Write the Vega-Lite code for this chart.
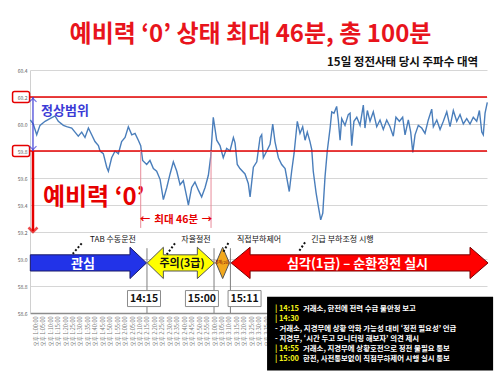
{
  "$schema": "https://vega.github.io/schema/vega-lite/v6.json",
  "width": 457,
  "height": 243,
  "autosize": "none",
  "padding": {"left": 30, "top": 70, "right": 13, "bottom": 62},
  "background": "white",
  "config": {"font": "Noto Sans CJK KR", "view": {"stroke": null}},
  "title": {
    "text": "예비력 ‘0’ 상태 최대 46분, 총 100분",
    "fontSize": 24,
    "fontWeight": "bold",
    "color": "#e8141c",
    "anchor": "middle",
    "offset": 10,
    "dx": -8
  },
  "datasets": {
    "freq": [
      {"t": "2011-09-15T12:56:42", "hz": 60.03},
      {"t": "2011-09-15T12:58:42", "hz": 60.00},
      {"t": "2011-09-15T13:01:00", "hz": 59.92},
      {"t": "2011-09-15T13:03:12", "hz": 59.99},
      {"t": "2011-09-15T13:06:36", "hz": 60.02},
      {"t": "2011-09-15T13:09:54", "hz": 60.04},
      {"t": "2011-09-15T13:13:18", "hz": 60.06},
      {"t": "2011-09-15T13:15:30", "hz": 60.02},
      {"t": "2011-09-15T13:18:54", "hz": 59.99},
      {"t": "2011-09-15T13:21:06", "hz": 59.98},
      {"t": "2011-09-15T13:24:30", "hz": 59.97},
      {"t": "2011-09-15T13:26:42", "hz": 59.94},
      {"t": "2011-09-15T13:28:54", "hz": 59.91},
      {"t": "2011-09-15T13:31:12", "hz": 59.94},
      {"t": "2011-09-15T13:33:24", "hz": 59.90},
      {"t": "2011-09-15T13:35:42", "hz": 59.97},
      {"t": "2011-09-15T13:37:54", "hz": 59.92},
      {"t": "2011-09-15T13:40:06", "hz": 59.87},
      {"t": "2011-09-15T13:42:24", "hz": 59.84},
      {"t": "2011-09-15T13:43:30", "hz": 59.80},
      {"t": "2011-09-15T13:45:42", "hz": 59.78},
      {"t": "2011-09-15T13:48:00", "hz": 59.68},
      {"t": "2011-09-15T13:49:06", "hz": 59.65},
      {"t": "2011-09-15T13:51:18", "hz": 59.75},
      {"t": "2011-09-15T13:53:36", "hz": 59.80},
      {"t": "2011-09-15T13:55:48", "hz": 59.78},
      {"t": "2011-09-15T13:58:00", "hz": 59.87},
      {"t": "2011-09-15T14:00:18", "hz": 59.90},
      {"t": "2011-09-15T14:02:30", "hz": 59.98},
      {"t": "2011-09-15T14:04:48", "hz": 59.92},
      {"t": "2011-09-15T14:07:00", "hz": 59.93},
      {"t": "2011-09-15T14:09:12", "hz": 59.88},
      {"t": "2011-09-15T14:10:48", "hz": 59.84},
      {"t": "2011-09-15T14:12:06", "hz": 59.73},
      {"t": "2011-09-15T14:14:48", "hz": 59.70},
      {"t": "2011-09-15T14:17:00", "hz": 59.73},
      {"t": "2011-09-15T14:19:18", "hz": 59.67},
      {"t": "2011-09-15T14:21:30", "hz": 59.65},
      {"t": "2011-09-15T14:23:48", "hz": 59.59},
      {"t": "2011-09-15T14:26:00", "hz": 59.44},
      {"t": "2011-09-15T14:28:18", "hz": 59.53},
      {"t": "2011-09-15T14:30:30", "hz": 59.63},
      {"t": "2011-09-15T14:32:42", "hz": 59.72},
      {"t": "2011-09-15T14:35:00", "hz": 59.65},
      {"t": "2011-09-15T14:37:12", "hz": 59.55},
      {"t": "2011-09-15T14:39:24", "hz": 59.58},
      {"t": "2011-09-15T14:41:42", "hz": 59.46},
      {"t": "2011-09-15T14:42:48", "hz": 59.40},
      {"t": "2011-09-15T14:45:00", "hz": 59.53},
      {"t": "2011-09-15T14:47:12", "hz": 59.57},
      {"t": "2011-09-15T14:49:30", "hz": 59.51},
      {"t": "2011-09-15T14:51:42", "hz": 59.46},
      {"t": "2011-09-15T14:54:00", "hz": 59.53},
      {"t": "2011-09-15T14:56:12", "hz": 59.62},
      {"t": "2011-09-15T14:57:48", "hz": 59.76},
      {"t": "2011-09-15T14:59:30", "hz": 60.05},
      {"t": "2011-09-15T15:01:48", "hz": 59.88},
      {"t": "2011-09-15T15:04:00", "hz": 59.84},
      {"t": "2011-09-15T15:06:12", "hz": 59.75},
      {"t": "2011-09-15T15:08:30", "hz": 59.82},
      {"t": "2011-09-15T15:10:42", "hz": 59.80},
      {"t": "2011-09-15T15:13:00", "hz": 59.90},
      {"t": "2011-09-15T15:14:06", "hz": 59.86},
      {"t": "2011-09-15T15:15:36", "hz": 59.70},
      {"t": "2011-09-15T15:17:24", "hz": 59.67},
      {"t": "2011-09-15T15:20:48", "hz": 59.63},
      {"t": "2011-09-15T15:23:00", "hz": 59.56},
      {"t": "2011-09-15T15:24:12", "hz": 59.46},
      {"t": "2011-09-15T15:26:24", "hz": 59.68},
      {"t": "2011-09-15T15:28:42", "hz": 59.72},
      {"t": "2011-09-15T15:30:54", "hz": 59.90},
      {"t": "2011-09-15T15:32:00", "hz": 59.92},
      {"t": "2011-09-15T15:33:06", "hz": 59.75},
      {"t": "2011-09-15T15:35:24", "hz": 59.80},
      {"t": "2011-09-15T15:37:36", "hz": 59.85},
      {"t": "2011-09-15T15:39:24", "hz": 60.00},
      {"t": "2011-09-15T15:40:54", "hz": 59.87},
      {"t": "2011-09-15T15:43:12", "hz": 59.75},
      {"t": "2011-09-15T15:45:24", "hz": 59.70},
      {"t": "2011-09-15T15:47:42", "hz": 59.67},
      {"t": "2011-09-15T15:50:30", "hz": 59.50},
      {"t": "2011-09-15T15:52:06", "hz": 59.65},
      {"t": "2011-09-15T15:53:42", "hz": 59.78},
      {"t": "2011-09-15T15:55:54", "hz": 60.02},
      {"t": "2011-09-15T15:57:42", "hz": 59.93},
      {"t": "2011-09-15T15:59:30", "hz": 59.98},
      {"t": "2011-09-15T16:01:06", "hz": 59.88},
      {"t": "2011-09-15T16:02:36", "hz": 59.94},
      {"t": "2011-09-15T16:04:24", "hz": 59.87},
      {"t": "2011-09-15T16:05:36", "hz": 59.81},
      {"t": "2011-09-15T16:06:36", "hz": 59.65},
      {"t": "2011-09-15T16:08:30", "hz": 59.49},
      {"t": "2011-09-15T16:10:00", "hz": 59.39},
      {"t": "2011-09-15T16:11:36", "hz": 59.29},
      {"t": "2011-09-15T16:13:00", "hz": 59.34},
      {"t": "2011-09-15T16:14:30", "hz": 59.61},
      {"t": "2011-09-15T16:16:00", "hz": 59.80},
      {"t": "2011-09-15T16:17:54", "hz": 59.97},
      {"t": "2011-09-15T16:19:00", "hz": 60.09},
      {"t": "2011-09-15T16:20:30", "hz": 60.08},
      {"t": "2011-09-15T16:22:18", "hz": 60.13},
      {"t": "2011-09-15T16:23:24", "hz": 60.03},
      {"t": "2011-09-15T16:24:36", "hz": 59.88},
      {"t": "2011-09-15T16:25:42", "hz": 60.04},
      {"t": "2011-09-15T16:27:54", "hz": 59.99},
      {"t": "2011-09-15T16:30:06", "hz": 60.07},
      {"t": "2011-09-15T16:31:18", "hz": 60.08},
      {"t": "2011-09-15T16:32:24", "hz": 59.84},
      {"t": "2011-09-15T16:33:54", "hz": 60.02},
      {"t": "2011-09-15T16:35:48", "hz": 60.05},
      {"t": "2011-09-15T16:38:00", "hz": 59.99},
      {"t": "2011-09-15T16:40:12", "hz": 60.14},
      {"t": "2011-09-15T16:41:18", "hz": 59.97},
      {"t": "2011-09-15T16:42:54", "hz": 60.10},
      {"t": "2011-09-15T16:44:42", "hz": 60.02},
      {"t": "2011-09-15T16:46:54", "hz": 60.09},
      {"t": "2011-09-15T16:49:12", "hz": 59.98},
      {"t": "2011-09-15T16:51:24", "hz": 60.03},
      {"t": "2011-09-15T16:53:36", "hz": 59.96},
      {"t": "2011-09-15T16:55:54", "hz": 60.03},
      {"t": "2011-09-15T16:58:06", "hz": 59.98},
      {"t": "2011-09-15T17:00:18", "hz": 59.91},
      {"t": "2011-09-15T17:02:06", "hz": 60.05},
      {"t": "2011-09-15T17:04:24", "hz": 60.02},
      {"t": "2011-09-15T17:06:36", "hz": 60.05},
      {"t": "2011-09-15T17:08:12", "hz": 59.92},
      {"t": "2011-09-15T17:10:24", "hz": 60.03},
      {"t": "2011-09-15T17:12:00", "hz": 59.94},
      {"t": "2011-09-15T17:13:24", "hz": 59.79},
      {"t": "2011-09-15T17:14:54", "hz": 59.92},
      {"t": "2011-09-15T17:17:06", "hz": 59.99},
      {"t": "2011-09-15T17:19:24", "hz": 59.97},
      {"t": "2011-09-15T17:21:36", "hz": 59.93},
      {"t": "2011-09-15T17:23:48", "hz": 60.03},
      {"t": "2011-09-15T17:26:06", "hz": 60.11},
      {"t": "2011-09-15T17:27:12", "hz": 59.98},
      {"t": "2011-09-15T17:29:30", "hz": 60.03},
      {"t": "2011-09-15T17:31:42", "hz": 59.96},
      {"t": "2011-09-15T17:33:54", "hz": 60.02},
      {"t": "2011-09-15T17:36:12", "hz": 60.09},
      {"t": "2011-09-15T17:38:24", "hz": 59.98},
      {"t": "2011-09-15T17:40:36", "hz": 60.10},
      {"t": "2011-09-15T17:42:54", "hz": 60.02},
      {"t": "2011-09-15T17:45:06", "hz": 60.07},
      {"t": "2011-09-15T17:47:18", "hz": 60.00},
      {"t": "2011-09-15T17:49:36", "hz": 60.04},
      {"t": "2011-09-15T17:51:48", "hz": 60.00},
      {"t": "2011-09-15T17:54:00", "hz": 60.05},
      {"t": "2011-09-15T17:56:18", "hz": 60.02},
      {"t": "2011-09-15T17:58:06", "hz": 60.10},
      {"t": "2011-09-15T17:59:42", "hz": 59.94},
      {"t": "2011-09-15T18:00:42", "hz": 59.92},
      {"t": "2011-09-15T18:01:54", "hz": 60.08},
      {"t": "2011-09-15T18:03:24", "hz": 60.16}
    ],
    "stages": [
      {"stage": "관심", "t": "2011-09-15T12:56:42", "lo": 58.911, "hi": 59.031},
      {"stage": "관심", "t": "2011-09-15T14:03:36", "lo": 58.911, "hi": 59.031},
      {"stage": "관심", "t": "2011-09-15T14:03:36", "lo": 58.855, "hi": 59.087},
      {"stage": "관심", "t": "2011-09-15T14:14:42", "lo": 58.971, "hi": 58.971},
      {"stage": "주의", "t": "2011-09-15T14:15:12", "lo": 58.971, "hi": 58.971},
      {"stage": "주의", "t": "2011-09-15T14:26:00", "lo": 58.855, "hi": 59.087},
      {"stage": "주의", "t": "2011-09-15T14:26:00", "lo": 58.911, "hi": 59.031},
      {"stage": "주의", "t": "2011-09-15T14:48:48", "lo": 58.911, "hi": 59.031},
      {"stage": "주의", "t": "2011-09-15T14:48:48", "lo": 58.855, "hi": 59.087},
      {"stage": "주의", "t": "2011-09-15T15:00:12", "lo": 58.971, "hi": 58.971},
      {"stage": "경계", "t": "2011-09-15T15:01:18", "lo": 58.971, "hi": 58.971},
      {"stage": "경계", "t": "2011-09-15T15:05:48", "lo": 58.855, "hi": 59.087},
      {"stage": "경계", "t": "2011-09-15T15:10:18", "lo": 58.971, "hi": 58.971},
      {"stage": "심각", "t": "2011-09-15T15:11:30", "lo": 58.971, "hi": 58.971},
      {"stage": "심각", "t": "2011-09-15T15:24:12", "lo": 58.855, "hi": 59.087},
      {"stage": "심각", "t": "2011-09-15T15:24:12", "lo": 58.911, "hi": 59.031},
      {"stage": "심각", "t": "2011-09-15T17:51:48", "lo": 58.911, "hi": 59.031},
      {"stage": "심각", "t": "2011-09-15T17:51:48", "lo": 58.855, "hi": 59.087},
      {"stage": "심각", "t": "2011-09-15T18:03:54", "lo": 58.971, "hi": 58.971}
    ],
    "notes": [
      {"t": "2011-09-15T15:40:54", "v": 58.63, "text": "| 14:15", "kind": "stamp"},
      {"t": "2011-09-15T15:59:42", "v": 58.63, "text": "거래소, 한전에 전력 수급 불안정 보고", "kind": "body"},
      {"t": "2011-09-15T15:40:54", "v": 58.556, "text": "| 14:30", "kind": "stamp"},
      {"t": "2011-09-15T15:40:54", "v": 58.481, "text": "- 거래소, 지경부에 상황 악화 가능성 대비 ‘정전 필요성’ 언급", "kind": "body"},
      {"t": "2011-09-15T15:40:54", "v": 58.407, "text": "- 지경부, ‘시간 두고 모니터링 해보자’ 의견 제시", "kind": "body"},
      {"t": "2011-09-15T15:40:54", "v": 58.333, "text": "| 14:55", "kind": "stamp"},
      {"t": "2011-09-15T15:59:42", "v": 58.333, "text": "거래소, 지경부에 상황호전으로 정전 불필요 통보", "kind": "body"},
      {"t": "2011-09-15T15:40:54", "v": 58.259, "text": "| 15:00", "kind": "stamp"},
      {"t": "2011-09-15T15:59:42", "v": 58.259, "text": "한전, 사전통보없이 직접부하제어 시행 실시 통보", "kind": "body"}
    ]
  },
  "layer": [
    {
      "data": {"name": "freq"},
      "mark": {"type": "line", "color": "#4a7ebb", "strokeWidth": 1.4},
      "encoding": {
        "x": {
          "field": "t", "type": "temporal",
          "scale": {"domain": [
            {"year": 2011, "month": 9, "date": 15, "hours": 12, "minutes": 56, "seconds": 30},
            {"year": 2011, "month": 9, "date": 15, "hours": 18, "minutes": 3, "seconds": 12}
          ]},
          "axis": {
            "title": null, "grid": false, "ticks": false,
            "tickCount": 95,
            "format": "오후 %-I:%M:%S",
            "labelAngle": -90, "labelFontSize": 5.5, "labelColor": "#777",
            "labelOverlap": false, "labelPadding": 3,
            "domainColor": "#8c8c8c", "domainWidth": 1.5
          }
        },
        "y": {
          "field": "hz", "type": "quantitative",
          "scale": {"domain": [58.6, 60.4], "zero": false, "nice": false},
          "axis": {
            "title": null, "values": [58.6, 58.8, 59, 59.2, 59.4, 59.6, 59.8, 60, 60.2, 60.4],
            "tickCount": 10,
            "ticks": false, "labelFontSize": 5, "labelColor": "#595959", "labelOverlap": false,
            "labelPadding": 3, "gridColor": "#d6d6d6", "domainColor": "#d0d0d0"
          }
        }
      }
    },
    {
      "data": {"values": [{"level": 60.2}, {"level": 59.8}]},
      "mark": {"type": "rule", "color": "#e60000", "strokeWidth": 1.5},
      "encoding": {"y": {"field": "level", "type": "quantitative"}}
    },
    {
      "data": {"values": [{"level": 60.2, "t": "2011-09-15T12:50:30"}, {"level": 59.8, "t": "2011-09-15T12:50:30"}]},
      "mark": {"type": "rect", "width": 17, "height": 11, "cornerRadius": 2, "fill": "transparent", "stroke": "#e60000", "strokeWidth": 1.5},
      "encoding": {
        "x": {"field": "t", "type": "temporal"},
        "y": {"field": "level", "type": "quantitative"}
      }
    },
    {
      "data": {"values": [{"t": "2011-09-15T12:58:30", "from": 60.2, "to": 59.8}]},
      "mark": {"type": "rule", "color": "#3b3bd6", "strokeWidth": 1.2},
      "encoding": {
        "x": {"field": "t", "type": "temporal"},
        "y": {"field": "from", "type": "quantitative"},
        "y2": {"field": "to"}
      }
    },
    {
      "data": {"values": [{"t": "2011-09-15T12:58:30", "tip": 60.19}]},
      "mark": {"type": "point", "shape": "M-1,1L0,0L1,1", "size": 49, "filled": false, "color": "#3b3bd6", "strokeWidth": 1.2},
      "encoding": {
        "x": {"field": "t", "type": "temporal"},
        "y": {"field": "tip", "type": "quantitative"}
      }
    },
    {
      "data": {"values": [{"t": "2011-09-15T12:58:30", "tip": 59.81}]},
      "mark": {"type": "point", "shape": "M-1,-1L0,0L1,-1", "size": 49, "filled": false, "color": "#3b3bd6", "strokeWidth": 1.2},
      "encoding": {
        "x": {"field": "t", "type": "temporal"},
        "y": {"field": "tip", "type": "quantitative"}
      }
    },
    {
      "data": {"values": [{"t": "2011-09-15T12:58:30", "from": 59.8, "to": 59.205}]},
      "mark": {"type": "rule", "color": "#e60000", "strokeWidth": 2.5},
      "encoding": {
        "x": {"field": "t", "type": "temporal"},
        "y": {"field": "from", "type": "quantitative"},
        "y2": {"field": "to"}
      }
    },
    {
      "data": {"values": [{"t": "2011-09-15T12:58:30", "tip": 59.2}]},
      "mark": {"type": "point", "shape": "M-1,-1L0,0L1,-1", "size": 81, "filled": false, "color": "#e60000", "strokeWidth": 2.5},
      "encoding": {
        "x": {"field": "t", "type": "temporal"},
        "y": {"field": "tip", "type": "quantitative"}
      }
    },
    {
      "data": {"values": [{"t": "2011-09-15T13:03:54", "v": 60.095, "label": "정상범위"}]},
      "mark": {"type": "text", "align": "left", "baseline": "middle", "fontSize": 13, "fontWeight": "bold", "color": "#3b3bd6"},
      "encoding": {
        "x": {"field": "t", "type": "temporal"},
        "y": {"field": "v", "type": "quantitative"},
        "text": {"field": "label"}
      }
    },
    {
      "data": {"values": [{"t": "2011-09-15T13:05:12", "v": 59.455, "label": "예비력 ‘0’"}]},
      "mark": {"type": "text", "align": "left", "baseline": "middle", "fontSize": 24, "fontWeight": "bold", "color": "#e60000"},
      "encoding": {
        "x": {"field": "t", "type": "temporal"},
        "y": {"field": "v", "type": "quantitative"},
        "text": {"field": "label"}
      }
    },
    {
      "data": {"values": [{"t": "2011-09-15T17:57:12", "v": 60.455, "label": "15일 정전사태 당시 주파수 대역"}]},
      "mark": {"type": "text", "align": "right", "baseline": "middle", "fontSize": 11.5, "fontWeight": "bold", "color": "#111"},
      "encoding": {
        "x": {"field": "t", "type": "temporal"},
        "y": {"field": "v", "type": "quantitative"},
        "text": {"field": "label"}
      }
    },
    {
      "data": {"values": [{"t": "2011-09-15T14:10:48", "from": 59.8, "to": 59.23}, {"t": "2011-09-15T14:58:00", "from": 59.8, "to": 59.23}]},
      "mark": {"type": "rule", "color": "#e88c9a", "strokeWidth": 1},
      "encoding": {
        "x": {"field": "t", "type": "temporal"},
        "y": {"field": "from", "type": "quantitative"},
        "y2": {"field": "to"}
      }
    },
    {
      "data": {"values": [
        {"t": "2011-09-15T14:34:36", "v": 59.29, "label": "최대 46분"},
        {"t": "2011-09-15T14:13:42", "v": 59.29, "label": "←"},
        {"t": "2011-09-15T14:55:18", "v": 59.29, "label": "→"}
      ]},
      "mark": {"type": "text", "align": "center", "baseline": "middle", "fontSize": 10.5, "fontWeight": "bold", "color": "#e60000"},
      "encoding": {
        "x": {"field": "t", "type": "temporal"},
        "y": {"field": "v", "type": "quantitative"},
        "text": {"field": "label"}
      }
    },
    {
      "data": {"values": [
        {"t": "2011-09-15T14:15:00", "from": 59.08, "to": 58.6},
        {"t": "2011-09-15T15:00:00", "from": 59.08, "to": 58.6},
        {"t": "2011-09-15T15:11:00", "from": 59.08, "to": 58.6}
      ]},
      "mark": {"type": "rule", "color": "#7f7f7f", "strokeWidth": 1},
      "encoding": {
        "x": {"field": "t", "type": "temporal"},
        "y": {"field": "from", "type": "quantitative"},
        "y2": {"field": "to"}
      }
    },
    {
      "data": {"name": "stages"},
      "mark": {"type": "area", "strokeWidth": 1, "opacity": 1, "fillOpacity": 1, "interpolate": "linear"},
      "encoding": {
        "x": {"field": "t", "type": "temporal"},
        "y": {"field": "lo", "type": "quantitative", "stack": null},
        "y2": {"field": "hi"},
        "color": {"field": "stage", "type": "nominal", "scale": {"domain": ["관심", "주의", "경계", "심각"], "range": ["#2233e8", "#ffff00", "#f2a81d", "#ff0000"]}, "legend": null},
        "stroke": {"field": "stage", "type": "nominal", "scale": {"domain": ["관심", "주의", "경계", "심각"], "range": ["#1a1a66", "#555555", "#555555", "#7a0000"]}, "legend": null}
      }
    },
    {
      "data": {"values": [
        {"t": "2011-09-15T13:32:06", "v": 58.965, "label": "관심"},
        {"t": "2011-09-15T16:36:18", "v": 58.965, "label": "심각(1급) – 순환정전 실시"}
      ]},
      "mark": {"type": "text", "align": "center", "baseline": "middle", "fontSize": 13, "fontWeight": "bold", "color": "white"},
      "encoding": {
        "x": {"field": "t", "type": "temporal"},
        "y": {"field": "v", "type": "quantitative"},
        "text": {"field": "label"}
      }
    },
    {
      "data": {"values": [{"t": "2011-09-15T14:38:30", "v": 58.965, "label": "주의(3급)"}]},
      "mark": {"type": "text", "align": "center", "baseline": "middle", "fontSize": 11, "fontWeight": "bold", "color": "#111"},
      "encoding": {
        "x": {"field": "t", "type": "temporal"},
        "y": {"field": "v", "type": "quantitative"},
        "text": {"field": "label"}
      }
    },
    {
      "data": {"values": [{"t": "2011-09-15T15:05:48", "v": 58.97, "label": "경계(2급)"}]},
      "mark": {"type": "text", "align": "center", "baseline": "middle", "fontSize": 4, "color": "#7a0000"},
      "encoding": {
        "x": {"field": "t", "type": "temporal"},
        "y": {"field": "v", "type": "quantitative"},
        "text": {"field": "label"}
      }
    },
    {
      "data": {"values": [
        {"t": "2011-09-15T13:31:12", "t2": "2011-09-15T13:25:12", "v": 59.116, "v2": 59.038},
        {"t": "2011-09-15T14:33:48", "t2": "2011-09-15T14:28:18", "v": 59.116, "v2": 59.034},
        {"t": "2011-09-15T15:09:36", "t2": "2011-09-15T15:06:12", "v": 59.118, "v2": 59.051},
        {"t": "2011-09-15T16:01:06", "t2": "2011-09-15T15:56:36", "v": 59.123, "v2": 59.051}
      ]},
      "mark": {"type": "rule", "color": "#111", "strokeWidth": 2, "strokeDash": [2, 2]},
      "encoding": {
        "x": {"field": "t", "type": "temporal"},
        "x2": {"field": "t2"},
        "y": {"field": "v", "type": "quantitative"},
        "y2": {"field": "v2"}
      }
    },
    {
      "data": {"values": [
        {"t": "2011-09-15T13:52:12", "v": 59.14, "label": "TAB 수동운전"},
        {"t": "2011-09-15T14:47:54", "v": 59.14, "label": "자율절전"},
        {"t": "2011-09-15T15:30:12", "v": 59.14, "label": "직접부하제어"},
        {"t": "2011-09-15T16:26:12", "v": 59.14, "label": "긴급 부하조정 시행"}
      ]},
      "mark": {"type": "text", "align": "center", "baseline": "middle", "fontSize": 8, "color": "#111"},
      "encoding": {
        "x": {"field": "t", "type": "temporal"},
        "y": {"field": "v", "type": "quantitative"},
        "text": {"field": "label"}
      }
    },
    {
      "data": {"values": [
        {"t": "2011-09-15T14:13:00", "v": 58.707, "label": "14:15"},
        {"t": "2011-09-15T14:51:54", "v": 58.707, "label": "15:00"},
        {"t": "2011-09-15T15:20:30", "v": 58.707, "label": "15:11"}
      ]},
      "mark": {"type": "rect", "width": 33, "height": 16, "fill": "white", "stroke": "#8c8c8c", "strokeWidth": 1},
      "encoding": {
        "x": {"field": "t", "type": "temporal"},
        "y": {"field": "v", "type": "quantitative"}
      }
    },
    {
      "data": {"values": [
        {"t": "2011-09-15T14:13:00", "v": 58.707, "label": "14:15"},
        {"t": "2011-09-15T14:51:54", "v": 58.707, "label": "15:00"},
        {"t": "2011-09-15T15:20:30", "v": 58.707, "label": "15:11"}
      ]},
      "mark": {"type": "text", "align": "center", "baseline": "middle", "fontSize": 10.5, "fontWeight": "bold", "color": "#111"},
      "encoding": {
        "x": {"field": "t", "type": "temporal"},
        "y": {"field": "v", "type": "quantitative"},
        "text": {"field": "label"}
      }
    },
    {
      "data": {"values": [{"t": "2011-09-15T15:35:36", "t2": "2011-09-15T18:07:18", "v": 58.72, "v2": 58.175}]},
      "mark": {"type": "rect", "fill": "#000000"},
      "encoding": {
        "x": {"field": "t", "type": "temporal"},
        "x2": {"field": "t2"},
        "y": {"field": "v", "type": "quantitative"},
        "y2": {"field": "v2"}
      }
    },
    {
      "data": {"name": "notes"},
      "transform": [{"filter": "datum.kind === 'stamp'"}],
      "mark": {"type": "text", "align": "left", "baseline": "middle", "fontSize": 7.5, "fontWeight": "bold", "color": "#f2f21a"},
      "encoding": {
        "x": {"field": "t", "type": "temporal"},
        "y": {"field": "v", "type": "quantitative"},
        "text": {"field": "text"}
      }
    },
    {
      "data": {"name": "notes"},
      "transform": [{"filter": "datum.kind === 'body'"}],
      "mark": {"type": "text", "align": "left", "baseline": "middle", "fontSize": 7.4, "fontWeight": "bold", "color": "#ffffff"},
      "encoding": {
        "x": {"field": "t", "type": "temporal"},
        "y": {"field": "v", "type": "quantitative"},
        "text": {"field": "text"}
      }
    }
  ]
}
